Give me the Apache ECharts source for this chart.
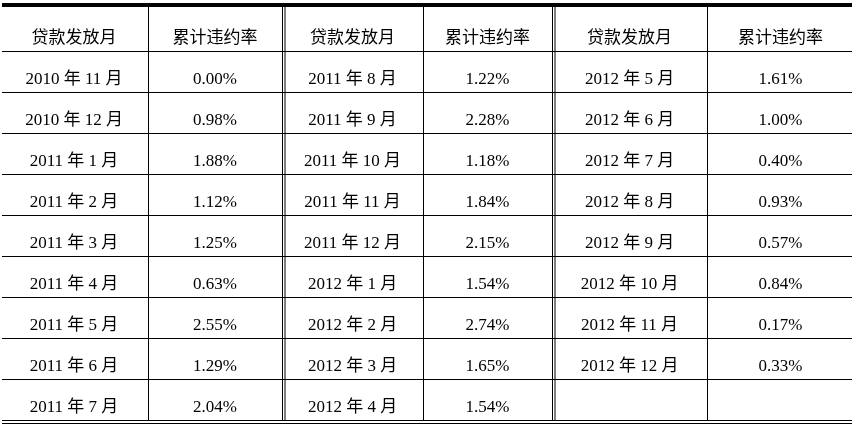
<!DOCTYPE html>
<html lang="zh">
<head>
    <meta charset="utf-8" />
    <title>累计违约率</title>
    <style>html, body { margin: 0; padding: 0; background: #fff; }</style>
</head>
<body>
    <div id="main" style="width:861px;height:428px"></div>
    <script src="https://cdn.jsdelivr.net/npm/echarts@6/dist/echarts.min.js"></script>
    <script>
        //表头
        var headers = ['贷款发放月', '累计违约率'];
        //第一组
        var months1 = ['2010 年 11 月', '2010 年 12 月', '2011 年 1 月', '2011 年 2 月', '2011 年 3 月',
            '2011 年 4 月', '2011 年 5 月', '2011 年 6 月', '2011 年 7 月'];
        var rates1 = [0.00, 0.98, 1.88, 1.12, 1.25, 0.63, 2.55, 1.29, 2.04];
        //第二组
        var months2 = ['2011 年 8 月', '2011 年 9 月', '2011 年 10 月', '2011 年 11 月', '2011 年 12 月',
            '2012 年 1 月', '2012 年 2 月', '2012 年 3 月', '2012 年 4 月'];
        var rates2 = [1.22, 2.28, 1.18, 1.84, 2.15, 1.54, 2.74, 1.65, 1.54];
        //第三组
        var months3 = ['2012 年 5 月', '2012 年 6 月', '2012 年 7 月', '2012 年 8 月', '2012 年 9 月',
            '2012 年 10 月', '2012 年 11 月', '2012 年 12 月'];
        var rates3 = [1.61, 1.00, 0.40, 0.93, 0.57, 0.84, 0.17, 0.33];

        //版式：列宽
        var colWidths = [148, 134, 141, 129, 155, 147];
        var edges = [0];
        colWidths.forEach(function (w) { edges.push(edges[edges.length - 1] + w); });

        var nRows = 10;
        var rowNames = [];
        for (var i = 0; i < nRows; i++) rowNames.push(String(i));

        //拼单元格: [列, 行, 文本, 是否表头]
        var groups = [[months1, rates1], [months2, rates2], [months3, rates3]];
        var cells = [];
        groups.forEach(function (g, gi) {
            cells.push([gi * 2, 0, headers[0], 1]);
            cells.push([gi * 2 + 1, 0, headers[1], 1]);
            for (var r = 0; r < nRows - 1; r++) {
                var m = g[0][r], v = g[1][r];
                cells.push([gi * 2, r + 1, m === undefined ? '' : m, 0]);
                cells.push([gi * 2 + 1, r + 1, v === undefined ? '' : v.toFixed(2) + '%', 0]);
            }
        });

        var FONT = '"Liberation Serif", "Noto Sans CJK SC", serif';

        function renderItem(params, api) {
            var col = api.value(0), row = api.value(1);
            var cell = cells[params.dataIndex];
            var x0 = api.coord([edges[col], row])[0];
            var x1 = api.coord([edges[col + 1], row])[0];
            var cy = api.coord([0, row])[1];
            var h = api.size([0, 1])[1];
            var y0 = Math.round(cy - h / 2), y1 = Math.round(cy + h / 2);
            var top = row === 0 ? y0 - 3 : y0;
            var ls = { stroke: '#000', lineWidth: 1 };
            var kids = [];

            kids.push({
                type: 'text',
                style: {
                    text: cell[2], x: (x0 + x1) / 2, y: cy + 8,
                    align: 'center', verticalAlign: 'middle',
                    fontSize: 17, fontFamily: FONT, fill: '#000'
                }
            });
            //右边线
            if (col < 5) {
                var xr = Math.round(x1) + 0.5;
                kids.push({ type: 'line', shape: { x1: xr, y1: top, x2: xr, y2: y1 }, style: ls });
                if (col % 2 === 1) {
                    kids.push({ type: 'line', shape: { x1: xr + 2.5, y1: top, x2: xr + 2.5, y2: y1 }, style: ls });
                }
            }
            //下边线
            var xa = col === 0 ? x0 + 2 : x0;
            var xb = col === 5 ? x1 - 2 : x1;
            kids.push({ type: 'line', shape: { x1: xa, y1: y1 + 0.5, x2: xb, y2: y1 + 0.5 }, style: ls });
            if (row === nRows - 1) {
                kids.push({ type: 'line', shape: { x1: xa, y1: y1 + 3.5, x2: xb, y2: y1 + 3.5 }, style: ls });
            }
            //顶部粗线
            if (row === 0) {
                kids.push({ type: 'rect', shape: { x: xa, y: y0 - 7, width: xb - xa, height: 4 }, style: { fill: '#000' } });
            }
            return { type: 'group', children: kids };
        }

        var myChart = echarts.init(document.getElementById('main'));
        var option = {
            animation: false,
            grid: { left: 0, right: 861 - edges[edges.length - 1], top: 10, bottom: 8 },
            xAxis: { type: 'value', min: 0, max: edges[edges.length - 1], show: false },
            yAxis: { type: 'category', data: rowNames, inverse: true, show: false },
            series: [{
                type: 'custom',
                renderItem: renderItem,
                encode: { x: 0, y: 1 },
                data: cells
            }]
        };
        myChart.setOption(option);
    </script>
</body>
</html>
